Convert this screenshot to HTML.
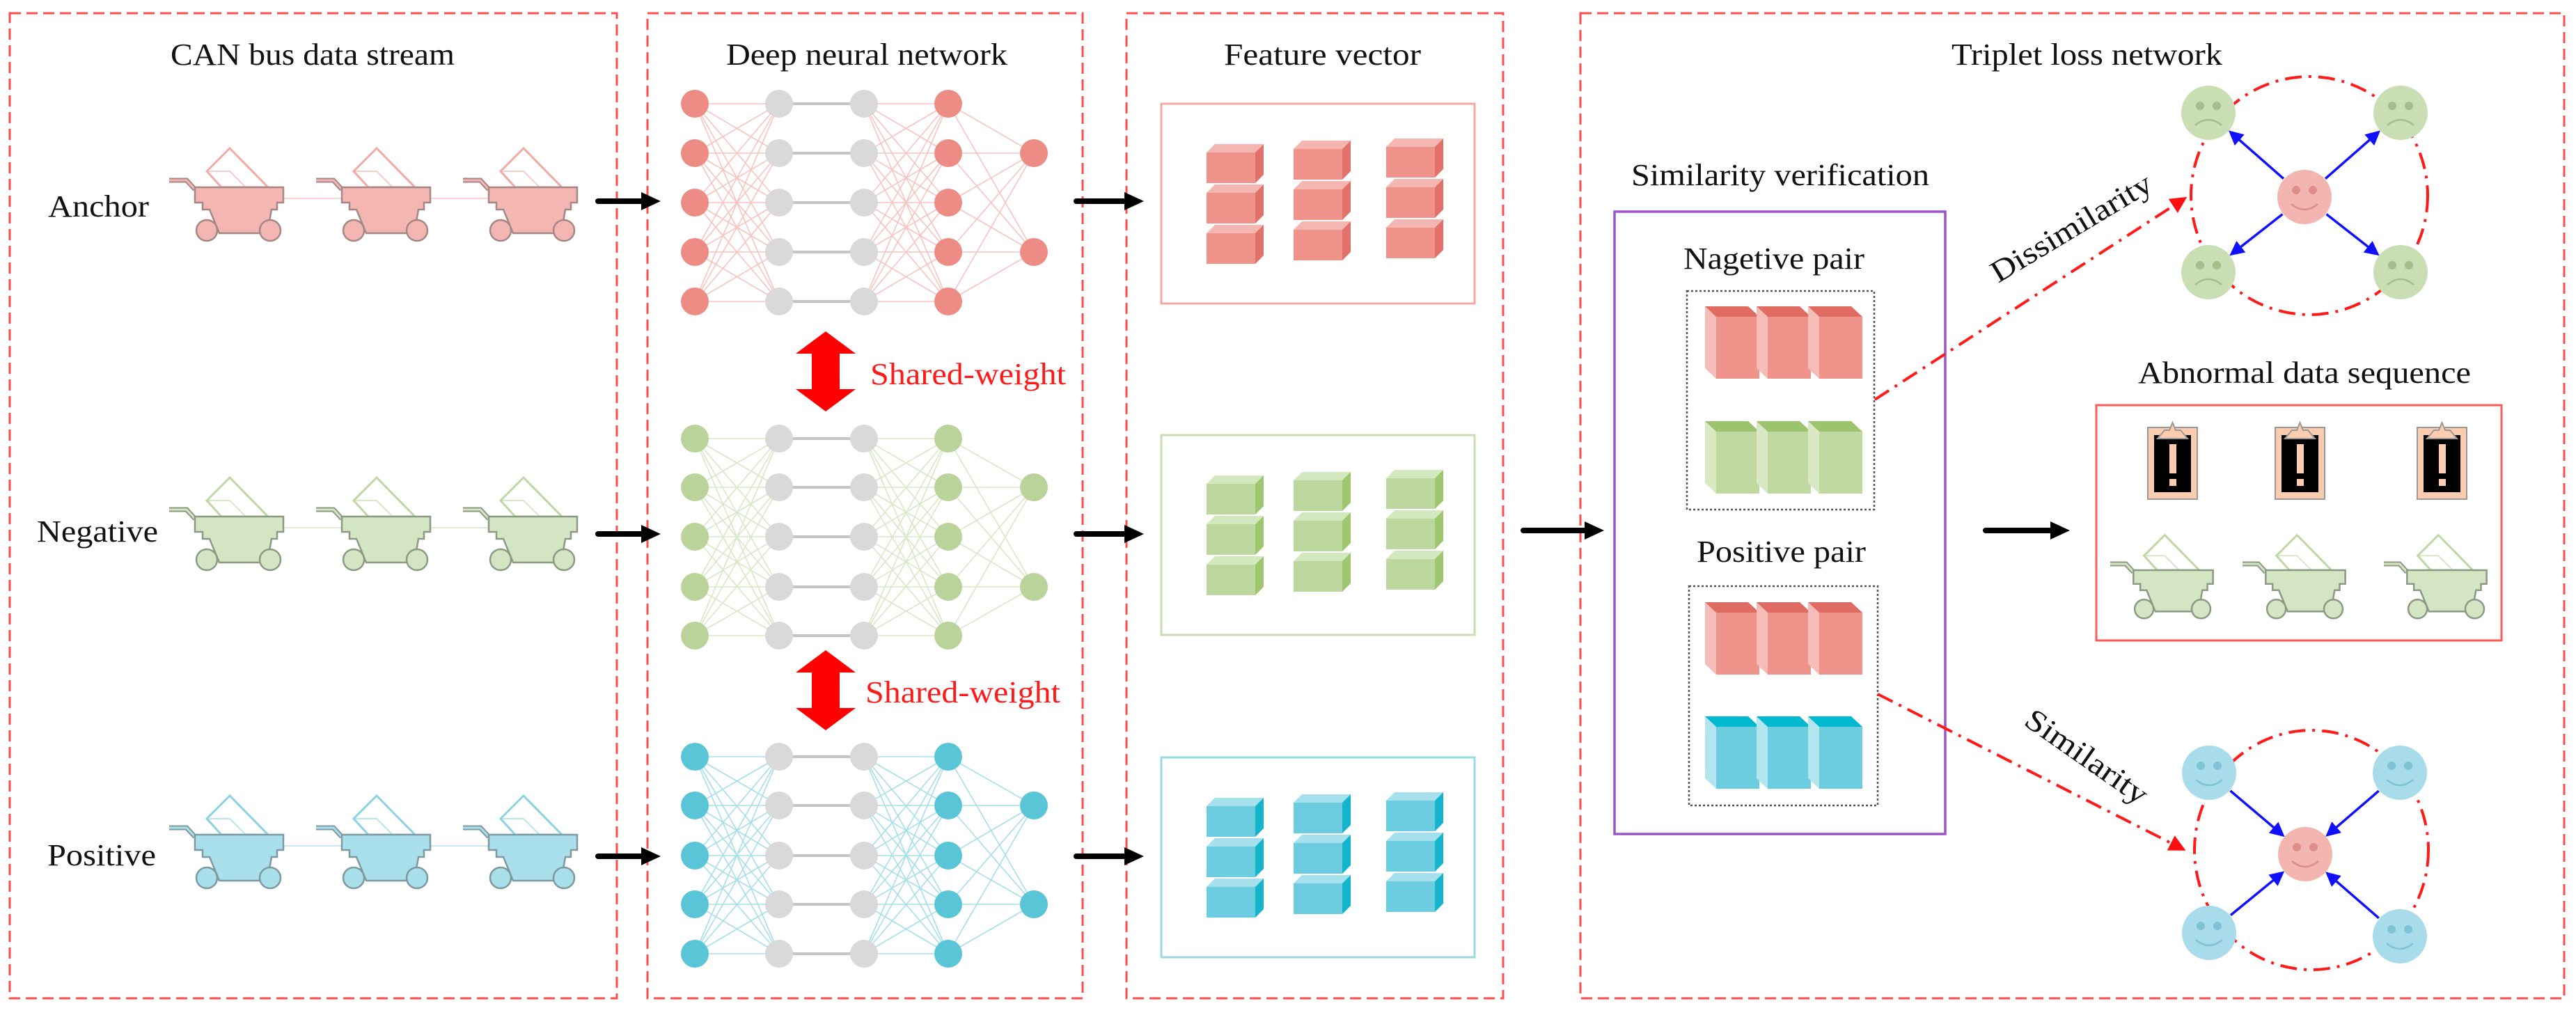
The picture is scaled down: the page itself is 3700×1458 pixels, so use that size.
<!DOCTYPE html>
<html><head><meta charset="utf-8"><style>
html,body{margin:0;padding:0;background:#fff;}
svg{display:block;}
text{font-family:"Liberation Serif",serif;fill:#111;}
</style></head><body>
<svg id="s" xmlns="http://www.w3.org/2000/svg" width="3700" height="1458" viewBox="0 0 3700 1458">
<defs>
<marker id="bh" markerWidth="6" markerHeight="6" refX="5" refY="3" orient="auto" markerUnits="strokeWidth"><path d="M0,0 L6,3 L0,6 z" fill="#1010ff"/></marker>
<marker id="rh" markerWidth="6" markerHeight="6" refX="5" refY="3" orient="auto" markerUnits="strokeWidth"><path d="M0,0 L6,3 L0,6 z" fill="#ff1010"/></marker>
</defs>
<g fill="none" stroke="#ff4d4d" stroke-width="3" stroke-dasharray="16 8">
<rect x="14" y="19" width="872" height="1415"/>
<rect x="930" y="19" width="625" height="1415"/>
<rect x="1618" y="19" width="541" height="1415"/>
<rect x="2270" y="19" width="1413" height="1415"/>
</g>
<g id="g"></g>
<g font-size="44" font-family="Liberation Serif, serif">
<text x="245" y="93" textLength="408" lengthAdjust="spacingAndGlyphs">CAN bus data stream</text>
<text x="1043" y="93" textLength="404" lengthAdjust="spacingAndGlyphs">Deep neural network</text>
<text x="1758" y="93" textLength="283" lengthAdjust="spacingAndGlyphs">Feature vector</text>
<text x="2803" y="93" textLength="389" lengthAdjust="spacingAndGlyphs">Triplet loss network</text>
<text x="2343" y="266" textLength="428" lengthAdjust="spacingAndGlyphs">Similarity verification</text>
<text x="2418" y="386" textLength="260" lengthAdjust="spacingAndGlyphs">Nagetive pair</text>
<text x="2437" y="807" textLength="243" lengthAdjust="spacingAndGlyphs">Positive pair</text>
<text x="3071" y="550" textLength="478" lengthAdjust="spacingAndGlyphs">Abnormal data sequence</text>
<text x="69" y="311" textLength="145" lengthAdjust="spacingAndGlyphs">Anchor</text>
<text x="53" y="778" textLength="174" lengthAdjust="spacingAndGlyphs">Negative</text>
<text x="68" y="1243" textLength="156" lengthAdjust="spacingAndGlyphs">Positive</text>
<text x="1250" y="552" textLength="281" lengthAdjust="spacingAndGlyphs" style="fill:#ff1a1a">Shared-weight</text>
<text x="1243" y="1009" textLength="280" lengthAdjust="spacingAndGlyphs" style="fill:#ff1a1a">Shared-weight</text>
<text x="0" y="0" textLength="262" lengthAdjust="spacingAndGlyphs" transform="translate(2870,407) rotate(-31)">Dissimilarity</text>
<text x="0" y="0" textLength="205" lengthAdjust="spacingAndGlyphs" transform="translate(2905,1040) rotate(35)">Similarity</text>
</g>
</svg>
<script>
var G=document.getElementById("g"),h="";
function add(s){h+=s;}
function line(x1,y1,x2,y2,c,w,extra){add('<line x1="'+x1+'" y1="'+y1+'" x2="'+x2+'" y2="'+y2+'" stroke="'+c+'" stroke-width="'+w+'" '+(extra||'')+'/>');}
function circ(x,y,r,f,st){add('<circle cx="'+x+'" cy="'+y+'" r="'+r+'" fill="'+f+'" '+(st||'')+'/>');}
function pts(p){return p.map(function(a){return a.join(',')}).join(' ');}
function poly(p,f,st){add('<polygon points="'+pts(p)+'" fill="'+f+'" '+(st||'')+'/>');}
function barrow(x1,x2,y){line(x1,y,x2-24,y,"#000",8,'stroke-linecap="round"');poly([[x2-28,y-13],[x2,y],[x2-28,y+13]],"#000");}
[289,767,1230].forEach(function(y){barrow(859,949,y);barrow(1546,1643,y);});
barrow(2188,2304,762);barrow(2852,2973,762);
function cart(ox,oy,s,fill,line_,paper){
 var T=function(x,y){return [ox+x*s,oy+y*s];};
 add('<polygon points="'+pts([T(54,-13),T(87,-46),T(142,10),T(75,10)])+'" fill="#fff" fill-opacity="0.4" stroke="'+paper+'" stroke-width="3"/>');
 add('<polyline points="'+pts([T(54,-13),T(87,-13),T(110,10)])+'" fill="none" stroke="'+paper+'" stroke-width="2" opacity=".6"/>');
 add('<polyline points="'+pts([T(0,0),T(25,0),T(37,13)])+'" fill="none" stroke="'+line_+'" stroke-width="7"/>');
 add('<polyline points="'+pts([T(0,0),T(25,0),T(37,13)])+'" fill="none" stroke="'+fill+'" stroke-width="3"/>');
 poly([T(37,10),T(164,10),T(164,32),T(155,32),T(155,42),T(147,42),T(141,76),T(72,76),T(58,42),T(48,42),T(48,32),T(37,32)],fill,'stroke="'+line_+'" stroke-width="2.5"');
 circ(ox+54*s,oy+72*s,15*s,fill,'stroke="'+line_+'" stroke-width="2.5"');
 circ(ox+145*s,oy+72*s,15*s,fill,'stroke="'+line_+'" stroke-width="2.5"');
}
var rows=[{y:259,f:"#f4b6b2",l:"#a48886",p:"#f2aaa5"},{y:732,f:"#d3e5c2",l:"#8c9a84",p:"#bdd8a4"},{y:1189,f:"#a9dfea",l:"#7e9aa0",p:"#8cd3e2"}];
rows.forEach(function(r){[243,454,665].forEach(function(x,i){if(i<2)line(x+164,r.y+26,x+211+37,r.y+26,r.p,2,'opacity=".5"');cart(x,r.y,1,r.f,r.l,r.p);});});
[3031,3221,3424].forEach(function(x){cart(x,810,0.9,"#d3e5c2","#8c9a84","#bdd8a4");});
[3085,3268,3472].forEach(function(x){
 add('<rect x="'+x+'" y="614" width="71" height="103" fill="#fbcdae" stroke="#999" stroke-width="2"/>');
 add('<rect x="'+(x+9)+'" y="625" width="53" height="82" fill="#000"/>');
 add('<path d="M'+(x+14)+',630 L'+(x+24)+',618 L'+(x+31)+',618 L'+(x+35.5)+',607 L'+(x+40)+',618 L'+(x+47)+',618 L'+(x+57)+',630 Z" fill="#fbcdae" stroke="#999" stroke-width="2"/>');
 add('<rect x="'+(x+31)+'" y="638" width="10" height="42" fill="#fbcdae"/><rect x="'+(x+31)+'" y="688" width="10" height="10" fill="#fbcdae"/>');
});
var LX=[998,1119,1241,1362,1485];
var nets=[{r:[149,220,291,362,433],o:[220,362],c:"#ec8c84",e:"#f7c4c0"},{r:[630,700,771,843,913],o:[700,843],c:"#b9d39a",e:"#d8e8c6"},{r:[1087,1157,1229,1299,1370],o:[1157,1299],c:"#5bc5d8",e:"#a6dfea"}];
nets.forEach(function(n){
 n.r.forEach(function(a){n.r.forEach(function(b){line(LX[0],a,LX[1],b,n.e,1.6);line(LX[2],a,LX[3],b,n.e,1.6);});n.o.forEach(function(b){line(LX[3],a,LX[4],b,n.e,1.6);});line(LX[1],a,LX[2],a,"#c4c4c4",4);});
 n.r.forEach(function(a){circ(LX[0],a,20,n.c);circ(LX[1],a,20,"#d9d9d9");circ(LX[2],a,20,"#d9d9d9");circ(LX[3],a,20,n.c);});
 n.o.forEach(function(a){circ(LX[4],a,20,n.c);});
});
function dbl(y1,y2){var x=1186;poly([[x,y1],[x+43,y1+32],[x+20,y1+32],[x+20,y2-32],[x+43,y2-32],[x,y2],[x-43,y2-32],[x-20,y2-32],[x-20,y1+32],[x-43,y1+32]],"#ff0000");}
dbl(476,591);dbl(934,1049);
var fb=[{y:149,s:"#f4a6a0",f:"#ee928a",t:"#f4b6b0",d:"#e2716a"},{y:625,s:"#c9deb0",f:"#bcd89e",t:"#d4e8c0",d:"#9dc66e"},{y:1088,s:"#9ad8e6",f:"#6ccde0",t:"#a6e0ec",d:"#14b4cc"}];
function cube(x,y,c){poly([[x,y+12],[x+12,y],[x+82,y],[x+70,y+12]],c.t);add('<rect x="'+x+'" y="'+(y+12)+'" width="70" height="44" fill="'+c.f+'"/>');poly([[x+70,y+12],[x+82,y],[x+82,y+44],[x+70,y+56]],c.d);}
fb.forEach(function(c){add('<rect x="1668" y="'+c.y+'" width="450" height="287" fill="none" stroke="'+c.s+'" stroke-width="3"/>');
 [[1733,58],[1858,53],[1991,50]].forEach(function(q){for(var k=0;k<3;k++)cube(q[0],c.y+q[1]+k*58,c);});});
add('<rect x="2319" y="304" width="475" height="894" fill="none" stroke="#9b55c8" stroke-width="3.5"/>');
add('<rect x="2423" y="418" width="269" height="314" fill="none" stroke="#555" stroke-width="2.5" stroke-dasharray="3 3"/>');
add('<rect x="2426" y="842" width="271" height="315" fill="none" stroke="#555" stroke-width="2.5" stroke-dasharray="3 3"/>');
function blk(x,y,H,c){poly([[x,y],[x+16,y+15],[x+16,y+H],[x,y+H-15]],c[2]);poly([[x,y],[x+62,y],[x+78,y+15],[x+16,y+15]],c[1]);add('<rect x="'+(x+16)+'" y="'+(y+15)+'" width="62" height="'+(H-15)+'" fill="'+c[0]+'"/>');}
var RED=["#ef938b","#e06b62","#f6bcb7"],GR=["#bfd9a0","#9cc46e","#d8e9c4"],CY=["#6ccde0","#00b8cf","#b3e5ee"];
[[440,RED],[605,GR],[865,RED],[1029,CY]].forEach(function(q){[2449,2523,2597].forEach(function(x){blk(x,q[0],104,q[1]);});});
add('<rect x="3011" y="582" width="582" height="338" fill="none" stroke="#ff5a5a" stroke-width="3"/>');
var dd='fill="none" stroke="#ff1a1a" stroke-width="4" stroke-dasharray="24 10 4 10"';
add('<ellipse cx="3317" cy="281" rx="170" ry="171" '+dd+'/>');
add('<ellipse cx="3320" cy="1221" rx="168" ry="172" '+dd+'/>');
line(2693,574,3138,285,"#ff1a1a",4,'stroke-dasharray="24 10 4 10" marker-end="url(#rh)"');
line(2697,997,3136,1220,"#ff1a1a",4,'stroke-dasharray="24 10 4 10" marker-end="url(#rh)"');
function face(x,y,f,e,sad){circ(x,y,39,f);circ(x-12,y-10,6,e);circ(x+12,y-10,6,e);
 if(sad)add('<path d="M'+(x-19)+','+(y+18)+' Q'+x+','+(y+2)+' '+(x+19)+','+(y+18)+'" fill="none" stroke="'+e+'" stroke-width="2.5"/>');
 else add('<path d="M'+(x-19)+','+(y+10)+' Q'+x+','+(y+26)+' '+(x+19)+','+(y+10)+'" fill="none" stroke="'+e+'" stroke-width="2.5"/>');}
function ar(x1,y1,x2,y2){line(x1,y1,x2,y2,"#1010ff",3.5,'marker-end="url(#bh)"');}
var cx=3310,cy=283;
[[3172,162],[3448,162],[3172,391],[3448,391]].forEach(function(p){var dx=p[0]-cx,dy=p[1]-cy,L=Math.hypot(dx,dy);ar(cx+dx/L*40,cy+dy/L*40,p[0]-dx/L*42,p[1]-dy/L*42);face(p[0],p[1],"#c9deb3","#a3be8a",true);});
face(cx,cy,"#f2b5b0","#dd8e88",false);
var bx=3311,by=1227;
[[3173,1110],[3447,1110],[3173,1340],[3447,1345]].forEach(function(p){var dx=bx-p[0],dy=by-p[1],L=Math.hypot(dx,dy);ar(p[0]+dx/L*40,p[1]+dy/L*40,bx-dx/L*42,by-dy/L*42);face(p[0],p[1],"#a8dcea","#7ec3d4",false);});
face(bx,by,"#f2b5b0","#dd8e88",false);
G.innerHTML=h;
</script>
</body></html>
